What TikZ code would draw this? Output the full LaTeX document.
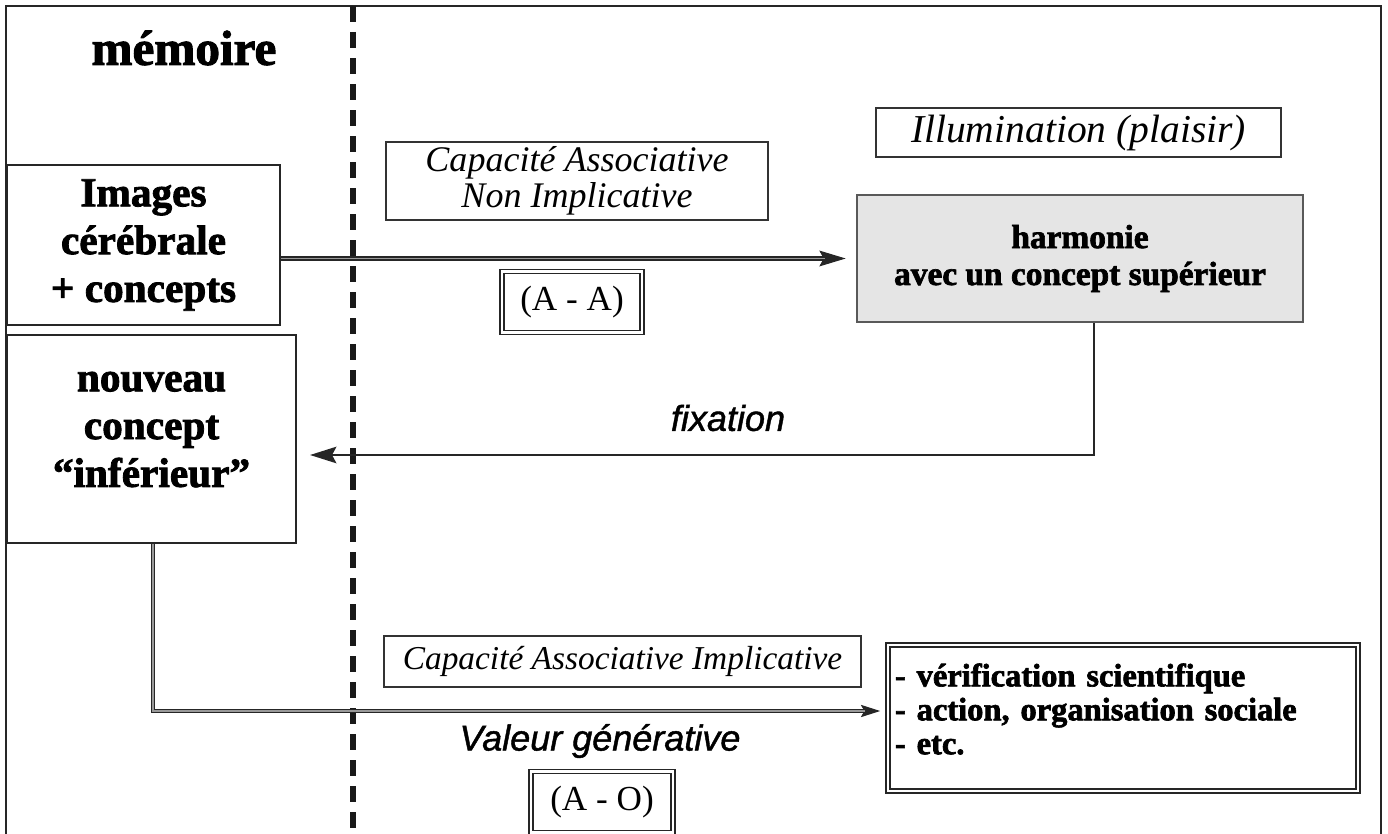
\documentclass[tikz,border=0pt]{standalone}
\usepackage{fontspec}
\setmainfont{Liberation Serif}[BoldFeatures={FakeBold=2}]
\newfontfamily\sansfnt{Liberation Sans}[ItalicFeatures={FakeBold=1.2}]
\usetikzlibrary{arrows.meta}
\newcommand\headfont{\bfseries\fontsize{28}{32}\selectfont}
\newcommand\boxfont{\bfseries\fontsize{23.5}{27.2}\selectfont}
\newcommand\midfont{\bfseries\fontsize{19}{21}\selectfont}
\newcommand\resfont{\bfseries\fontsize{18.5}{19.3}\selectfont}
\newcommand\labfont{\itshape\fontsize{20.5}{20.4}\selectfont}
\newcommand\codefont{\fontsize{20}{22}\selectfont}
\newcommand\sansitfont{\sansfnt\itshape\fontsize{20.5}{24}\selectfont}
\begin{document}
\begin{tikzpicture}[x=0.02cm,y=-0.02cm,
  frame/.style={line width=1.2pt, draw=black!85},
  divider/.style={line width=3.1pt, draw=black!90, dash pattern=on 9pt off 5.8pt},
  bigbox/.style={draw=black!85, line width=1.2pt, fill=white, align=center, font=\boxfont, inner sep=0pt},
  graybox/.style={draw=black!65, line width=0.9pt, fill=black!10, align=center, font=\midfont, inner sep=0pt},
  labbox/.style={draw=black!80, line width=0.6pt, fill=white, align=center, font=\labfont, inner sep=0pt},
  dblbox/.style={draw=black!85, line width=0.9pt, double=white, double distance=1.3pt, fill=white, inner sep=0pt},
  dline/.style={draw=black!85, line width=0.6pt, double=black!40, double distance=1.1pt},
  tipline/.style={draw=black!85, line width=0.6pt},
  sline/.style={draw=black!85, line width=1.1pt},
  plain/.style={inner sep=0pt}
]
\useasboundingbox (0,0) rectangle (1388,834);
% frame and divider
\draw[frame] (6,834) -- (6,6) -- (1381,6) -- (1381,834);
\draw[divider] (353,6) -- (353,834);

\node[plain, font=\headfont] (mem) at (184,48) {mémoire};

\node[bigbox, minimum width=273*0.02cm, minimum height=160*0.02cm] (img) at (143.5,245) {Images\\cérébrale\\+ concepts};
\node[bigbox, minimum width=289*0.02cm, minimum height=208*0.02cm, text depth=11pt] (nouv) at (151.5,439) {nouveau\\concept\\“inférieur”};

\node[labbox, minimum width=382*0.02cm, minimum height=78*0.02cm] (cap1) at (577,181) {Capacité Associative\\Non Implicative};
\node[dblbox, minimum width=140*0.02cm, minimum height=61*0.02cm, font=\codefont] (aa) at (572,302) {(A - A)};

\node[labbox, minimum width=405*0.02cm, minimum height=49*0.02cm, font=\itshape\fontsize{22.5}{24}\selectfont] (illu) at (1078.5,132.5) {Illumination (plaisir)};
\node[graybox, minimum width=446*0.02cm, minimum height=127*0.02cm] (harm) at (1080,258.5) {harmonie\\avec un concept supérieur};

\node[plain, font=\sansitfont] (fix) at (728,418) {fixation};

\node[labbox, minimum width=477*0.02cm, minimum height=51*0.02cm, font=\itshape\fontsize{19}{20}\selectfont] (cap2) at (622.5,661.5) {Capacité Associative Implicative};
\node[plain, font=\sansitfont] (val) at (600,741) {Valeur générative};
\node[dblbox, minimum width=142*0.02cm, minimum height=61*0.02cm, font=\codefont] (ao) at (602,802) {(A - O)};

\node[dblbox, text width=456*0.02cm, minimum height=146*0.02cm, text height=13pt, text depth=49pt, align=left, font=\resfont, inner xsep=4pt] (res) at (1123,718) {- vérification scientifique\\- action, organisation sociale\\- etc.};

% connectors
\draw[tipline, -{Stealth[length=15pt, width=9pt, inset=2.5pt]}, shorten >=6pt] (img.east |- harm.west) -- (harm.west);
\draw[dline, shorten >=18pt] (img.east |- harm.west) -- (harm.west);
\coordinate (fx) at (1094,455);
\draw[sline, -{Stealth[length=15pt, width=9.4pt, inset=2.5pt]}, shorten >=7.4pt] (harm.south -| fx) -- (fx) -- (nouv.east |- fx);
\coordinate (bx) at (153,711);
\draw[tipline, -{Stealth[length=11pt, width=7pt, inset=2pt]}, shorten >=4pt] (nouv.south -| bx) -- (bx) -- (res.west |- bx);
\draw[dline, shorten >=12.5pt] (nouv.south -| bx) -- (bx) -- (res.west |- bx);
\end{tikzpicture}
\end{document}
